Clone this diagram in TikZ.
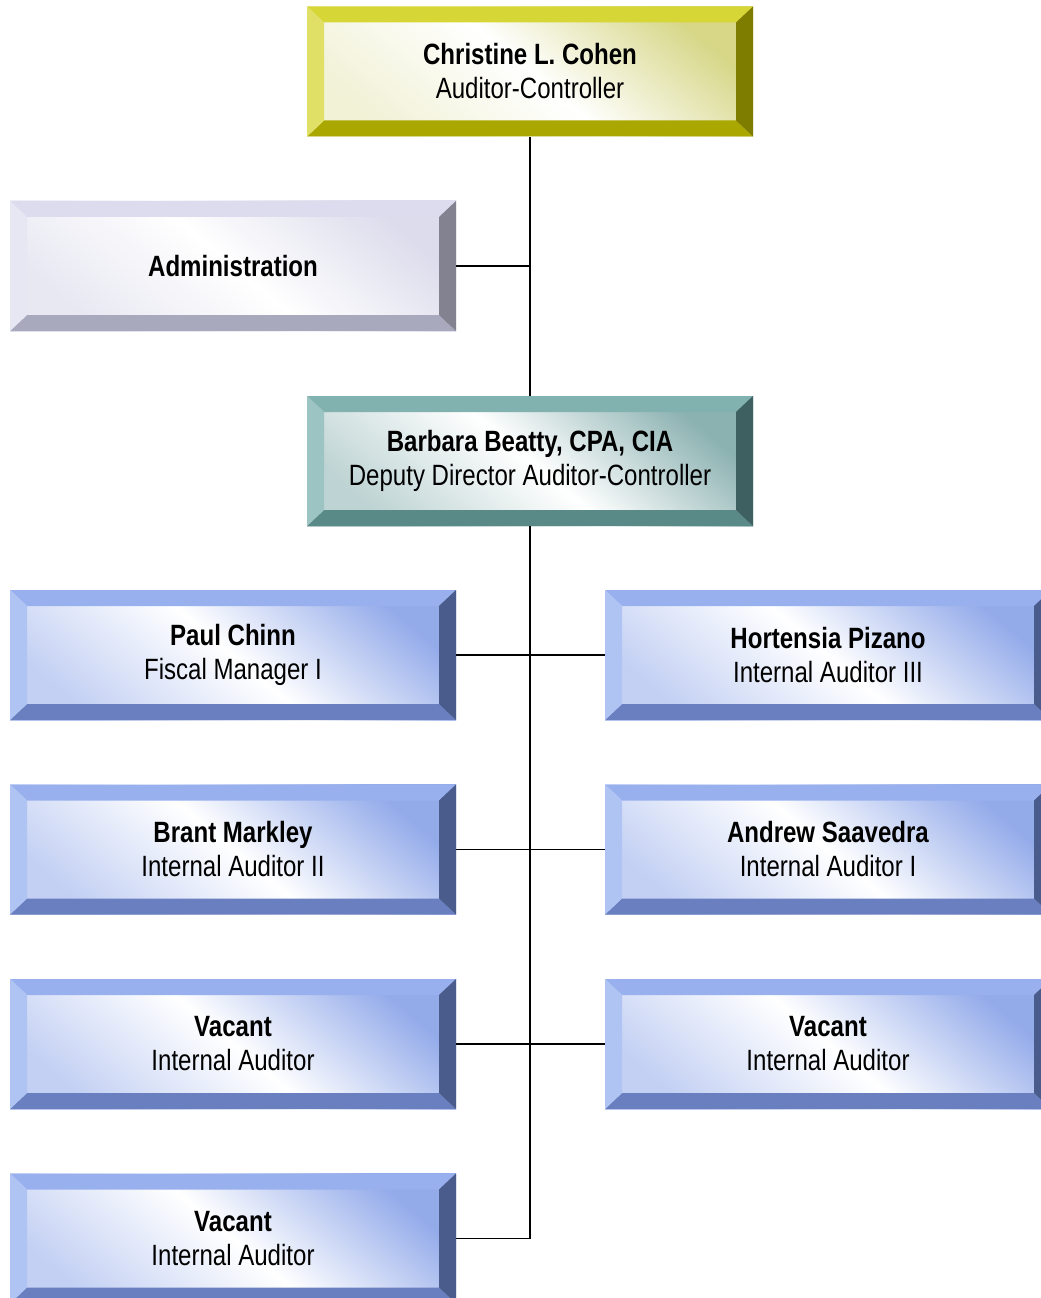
\documentclass[tikz,border=0pt]{standalone}
\usepackage{fontspec}
\setmainfont[FakeStretch=0.82]{Liberation Sans}

% bevel colours: top, left, bottom, right, face
\definecolor{ceoT}{HTML}{D7D637}
\definecolor{ceoL}{HTML}{E1E066}
\definecolor{ceoB}{HTML}{A9A700}
\definecolor{ceoR}{HTML}{7F7D00}
\definecolor{ceoF}{HTML}{D2D27A}
\definecolor{admT}{HTML}{DCDCEE}
\definecolor{admL}{HTML}{E7E7F3}
\definecolor{admB}{HTML}{A9A9BD}
\definecolor{admR}{HTML}{828290}
\definecolor{admF}{HTML}{D8D8EA}
\definecolor{depT}{HTML}{82B2B0}
\definecolor{depL}{HTML}{9CC4C2}
\definecolor{depB}{HTML}{5A8A88}
\definecolor{depR}{HTML}{3F6060}
\definecolor{depF}{HTML}{7EA8A8}
\definecolor{stfT}{HTML}{98B0EE}
\definecolor{stfL}{HTML}{B0C4F4}
\definecolor{stfB}{HTML}{6A7FC0}
\definecolor{stfR}{HTML}{4A5C8C}
\definecolor{stfF}{HTML}{88A2E8}

\tikzset{
  bevel/.style n args={4}{path picture={
    \def\pb{path picture bounding box}
    \fill[#1] (\pb.north west) -- (\pb.north east) -- ([xshift=-12.75pt,yshift=-12pt]\pb.north east) -- ([xshift=12.75pt,yshift=-12pt]\pb.north west) -- cycle;
    \fill[#3] (\pb.south west) -- (\pb.south east) -- ([xshift=-12.75pt,yshift=12pt]\pb.south east) -- ([xshift=12.75pt,yshift=12pt]\pb.south west) -- cycle;
    \fill[#2] (\pb.north west) -- ([xshift=12.75pt,yshift=-12pt]\pb.north west) -- ([xshift=12.75pt,yshift=12pt]\pb.south west) -- (\pb.south west) -- cycle;
    \fill[#4] (\pb.north east) -- ([xshift=-12.75pt,yshift=-12pt]\pb.north east) -- ([xshift=-12.75pt,yshift=12pt]\pb.south east) -- (\pb.south east) -- cycle;
  }},
  unitbox/.style={minimum width=334.5pt, minimum height=97.5pt, inner sep=0pt,
    align=center, font=\fontsize{22}{25.5}\selectfont},
  ceobox/.style={unitbox, top color=ceoF!90, bottom color=ceoF!30, middle color=white, shading angle=-40, bevel={ceoT}{ceoL}{ceoB}{ceoR}},
  admbox/.style={unitbox, top color=admF!90, bottom color=admF!60, middle color=white, shading angle=-40, bevel={admT}{admL}{admB}{admR}},
  depbox/.style={unitbox, top color=depF!90, bottom color=depF!50, middle color=white, shading angle=-40, bevel={depT}{depL}{depB}{depR}},
  stfbox/.style={unitbox, top color=stfF!90, bottom color=stfF!50, middle color=white, shading angle=-40, bevel={stfT}{stfL}{stfB}{stfR}},
  orgline/.style={line width=1.1pt, black}
}

\begin{document}
\begin{tikzpicture}[x=0.75pt, y=-0.75pt]
\useasboundingbox (0,0) rectangle (1040,1298);

\node[ceobox] (ceo) at (530,71.5) {\textbf{Christine L. Cohen}\\Auditor-Controller};
\node[admbox] (admin) at (233,266) {\textbf{Administration}};
\node[depbox] (deputy) at (530,461) {\textbf{Barbara Beatty, CPA, CIA}\\Deputy Director Auditor-Controller};

\node[stfbox] (chinn) at (233,655) {\textbf{Paul Chinn}\\Fiscal Manager I};
\node[stfbox] (pizano) at (828,655) {\textbf{Hortensia Pizano}\\Internal Auditor III};
\node[stfbox] (markley) at (233,849.5) {\textbf{Brant Markley}\\Internal Auditor II};
\node[stfbox] (saavedra) at (828,849.5) {\textbf{Andrew Saavedra}\\Internal Auditor I};
\node[stfbox] (vacA) at (233,1044) {\textbf{Vacant}\\Internal Auditor};
\node[stfbox] (vacB) at (828,1044) {\textbf{Vacant}\\Internal Auditor};
\node[stfbox] (vacC) at (233,1238.5) {\textbf{Vacant}\\Internal Auditor};

% connectors
\draw[orgline] (ceo.south) -- (deputy.north);
\draw[orgline] (admin.east) -- (admin.east -| ceo.south);
\draw[orgline] (deputy.south) -- (deputy.south |- vacC.east) -- (vacC.east);
\draw[orgline] (chinn.east) -- (pizano.west);
\draw[orgline] (markley.east) -- (saavedra.west);
\draw[orgline] (vacA.east) -- (vacB.west);
\end{tikzpicture}
\end{document}
